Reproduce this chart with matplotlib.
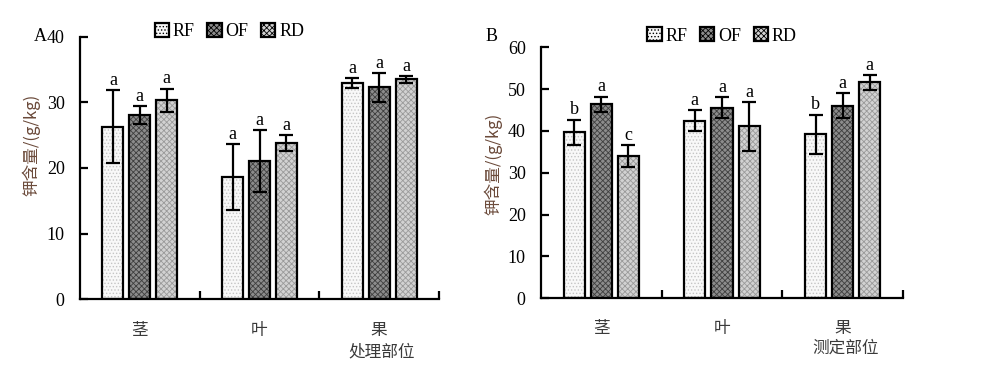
import numpy as np
import matplotlib
matplotlib.use('Agg')
import matplotlib.pyplot as plt
from matplotlib.patches import Patch

plt.rcParams['font.family'] = ['Liberation Serif', 'Noto Sans CJK SC']
plt.rcParams['hatch.linewidth'] = 0.6

parts = ['茎', '叶', '果']
treatments = ['RF', 'OF', 'RD']

# panel A: mean and error per treatment (stem, leaf, fruit)
a_mean = {'RF': [26.3, 18.6, 32.9], 'OF': [28.1, 21.1, 32.3], 'RD': [30.3, 23.8, 33.5]}
a_err = {'RF': [5.6, 5.0, 0.75], 'OF': [1.35, 4.7, 2.2], 'RD': [1.8, 1.2, 0.5]}
a_sig = {'RF': ['a', 'a', 'a'], 'OF': ['a', 'a', 'a'], 'RD': ['a', 'a', 'a']}

# panel B
b_mean = {'RF': [39.7, 42.4, 39.2], 'OF': [46.4, 45.6, 46.0], 'RD': [34.1, 41.1, 51.6]}
b_err = {'RF': [3.0, 2.5, 4.7], 'OF': [1.8, 2.5, 3.0], 'RD': [2.6, 5.8, 1.7]}
b_sig = {'RF': ['b', 'a', 'b'], 'OF': ['a', 'a', 'a'], 'RD': ['c', 'a', 'a']}

styles = {
    'RF': dict(face='#f8f8f8', hatch='.....', hcolor='#c4c4c4'),
    'OF': dict(face='#8c8c8c', hatch='xxxxxx', hcolor='#3f3f3f'),
    'RD': dict(face='#d2d2d2', hatch='xxxxxx', hcolor='#9a9a9a'),
}

fig = plt.figure(figsize=(10, 3.8), dpi=100)
axA = fig.add_axes([0.080, 0.213, 0.359, 0.690])
axB = fig.add_axes([0.541, 0.215, 0.362, 0.6605])

width = 0.175
step = 0.225
cjk = ['Noto Sans CJK SC', 'DejaVu Sans']


def draw(ax, means, errs, sigs, ymax, ystep, pad, xlabel, leg_x, leg_y):
    x = np.arange(3) + 0.5
    handles = []
    for i, t in enumerate(treatments):
        pos = x + (i - 1) * step
        st = styles[t]
        ax.bar(pos, means[t], width, color=st['face'], hatch=st['hatch'],
               edgecolor=st['hcolor'], linewidth=0, zorder=2)
        ax.bar(pos, means[t], width, fill=False, edgecolor='black',
               linewidth=1.6, zorder=3)
        ax.errorbar(pos, means[t], yerr=errs[t], fmt='none', ecolor='black',
                    elinewidth=1.6, capsize=5, capthick=1.6, zorder=4)
        for p, m, e, s in zip(pos, means[t], errs[t], sigs[t]):
            ax.text(p, m + e + pad, s, ha='center', va='bottom', fontsize=13)
        handles.append(Patch(facecolor=st['face'], hatch=st['hatch'],
                             edgecolor='black', linewidth=1.6, label=t))
    ax.set_xlim(0, 3)
    ax.set_ylim(0, ymax)
    ax.set_yticks(np.arange(0, ymax + 1, ystep))
    ax.set_xticks([1, 2, 3])
    ax.set_xticklabels([])
    for sp in ['top', 'right']:
        ax.spines[sp].set_visible(False)
    for sp in ['left', 'bottom']:
        ax.spines[sp].set_linewidth(1.6)
    ax.tick_params(axis='both', direction='in', length=6, width=1.6, labelsize=13)
    ax.tick_params(axis='y', pad=11)
    for xi, name in zip(x, parts):
        ax.text(xi, -0.12, name, transform=ax.get_xaxis_transform(),
                ha='center', va='center', fontsize=12, color='#3a3a3a', family=cjk)
    ax.text(2.52, -0.2, xlabel, transform=ax.get_xaxis_transform(),
            ha='center', va='center', fontsize=12, color='#3a3a3a', family=cjk)
    leg = ax.legend(handles=handles, loc='center', bbox_to_anchor=(leg_x, leg_y),
                    ncol=3, frameon=False, fontsize=13, handlelength=0.8,
                    handleheight=0.8, handletextpad=0.2, columnspacing=0.7)
    return leg


draw(axA, a_mean, a_err, a_sig, 40, 10, 0.2, '处理部位', 0.416, 1.02)
draw(axB, b_mean, b_err, b_sig, 60, 10, 0.3, '测定部位', 0.5, 1.045)

fig.text(0.031, 0.62, '钾含量/(g/kg)', rotation=90, ha='center', va='center',
         fontsize=12, color='#6b4a3a', family=cjk)
fig.text(0.493, 0.57, '钾含量/(g/kg)', rotation=90, ha='center', va='center',
         fontsize=12, color='#6b4a3a', family=cjk)
fig.text(0.034, 0.903, 'A', ha='left', va='center', fontsize=13)
fig.text(0.486, 0.903, 'B', ha='left', va='center', fontsize=13)

fig.savefig('out.png', dpi=100)
